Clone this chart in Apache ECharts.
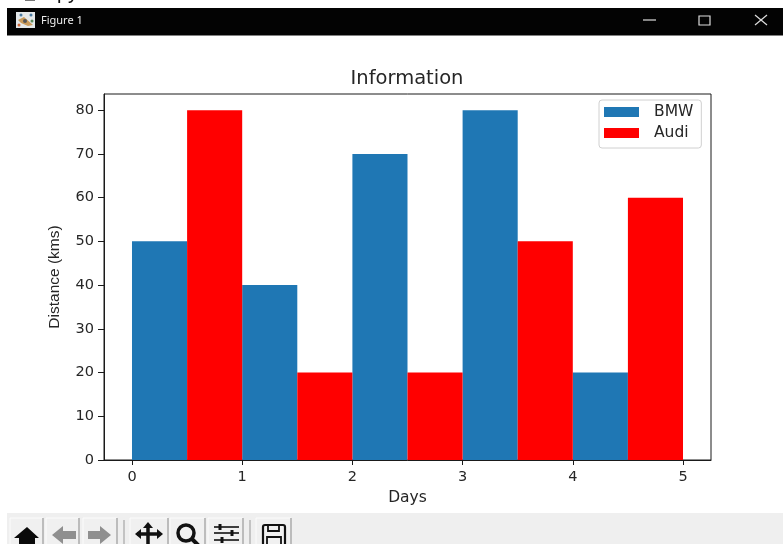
<!DOCTYPE html>
<html><head><meta charset="utf-8">
<style>html,body{margin:0;padding:0;background:#fff;overflow:hidden}#c{width:783px;height:544px}</style>
<script src="https://cdn.jsdelivr.net/npm/echarts@6/dist/echarts.min.js"></script>
</head><body><div id="c"></div>
<script>
const bmwX = [0.25, 1.25, 2.25, 3.25, 4.25];
const bmwValues = [50, 40, 70, 80, 20];
const audiX = [0.75, 1.75, 2.75, 3.75, 4.75];
const audiValues = [80, 20, 20, 50, 60];
const xTicks = [0, 1, 2, 3, 4, 5];
const yTicks = [0, 10, 20, 30, 40, 50, 60, 70, 80];
const pair = (xs, ys) => xs.map((x, i) => [x, ys[i]]);
const font = '"DejaVu Sans"';
const ink = '#262626';

const btn = (x, w) => [
  {type:'rect',shape:{x:x,y:518,width:w,height:30},style:{fill:'#f0f0f0',stroke:'#fbfbfb',lineWidth:1}},
  {type:'polyline',shape:{points:[[x+w,518],[x+w,544]]},style:{stroke:'#a8a8a8',lineWidth:1.5,fill:'none'}}
];
const sep = x => ({type:'polyline',shape:{points:[[x,520],[x,544]]},style:{stroke:'#b5b5b5',lineWidth:1.5,fill:'none'}});
const shape = (points, fill) => ({type:'polygon',shape:{points},style:{fill}});
const ln = (points, w, c) => ({type:'polyline',shape:{points},style:{stroke:c||'#111',lineWidth:w,fill:'none'}});
const dot = (cx, cy, r, fill) => ({type:'circle',shape:{cx,cy,r},style:{fill}});

const chrome = [
  {type:'text',left:57,top:-17,style:{text:'py',fill:'#111',font:'20px "Liberation Sans"'}},
  ln([[25,0.5],[35,0.5]], 1, '#777777'),
  {type:'rect',shape:{x:7,y:8,width:776,height:27.5},style:{fill:'#030303'}},
  {type:'rect',shape:{x:16,y:12,width:19,height:16},style:{fill:'#e4e8ea'}},
  shape([[18,20],[24,17],[33,25],[28,26],[21,23]], '#c99a5a'),
  dot(21,15,1.5,'#4a7aa0'), dot(31,15,1.5,'#4a7aa0'), dot(25,21,2,'#555555'), dot(19,25,1.5,'#d06a3a'), dot(32,21,1.5,'#5a8a5a'),
  {type:'text',left:41,top:15,style:{text:'Figure 1',fill:'#eeeeee',font:'11px "Noto Sans"'}},
  ln([[643,20],[656,20]], 1.2, '#dddddd'),
  {type:'rect',shape:{x:699,y:16,width:11,height:9},style:{fill:'none',stroke:'#dddddd',lineWidth:1.2}},
  ln([[755,15],[767,25]], 1.2, '#dddddd'),
  ln([[767,15],[755,25]], 1.2, '#dddddd'),
  {type:'rect',shape:{x:7,y:513,width:776,height:31},style:{fill:'#efefef'}},
  ...btn(10,33), ...btn(46,33), ...btn(83,34), sep(124),
  ...btn(130,38), ...btn(170,35), ...btn(208,35), sep(250), ...btn(256,35),
  shape([[14,538],[27,527],[39,538],[35,538],[35,544],[19,544],[19,538]], '#0a0a0a'),
  shape([[52,535],[63,526],[63,531],[76,531],[76,539],[63,539],[63,544]], '#8f8f8f'),
  shape([[111,535],[100,526],[100,531],[88,531],[88,539],[100,539],[100,544]], '#8f8f8f'),
  ln([[137,534],[160,534]], 3.5), ln([[148,525],[148,544]], 3.5),
  shape([[135,534],[141,529],[141,539]], '#111'), shape([[163,534],[157,529],[157,539]], '#111'),
  shape([[148,522],[143,528],[153,528]], '#111'),
  {type:'circle',shape:{cx:186,cy:533,r:8},style:{fill:'none',stroke:'#111',lineWidth:3.5}},
  ln([[192,539],[199,546]], 4),
  ln([[214,527],[239,527]], 1.6), ln([[214,533],[239,533]], 1.6), ln([[214,540],[239,540]], 1.6),
  ln([[220,524],[220,530]], 3), ln([[232,530],[232,536]], 3), ln([[222,537],[222,543]], 3),
  {type:'rect',shape:{x:263,y:525,width:22,height:22,r:2},style:{fill:'none',stroke:'#111',lineWidth:2.2}},
  {type:'rect',shape:{x:268,y:525,width:11,height:6},style:{fill:'none',stroke:'#111',lineWidth:1.8}},
  {type:'rect',shape:{x:267,y:537,width:14,height:8},style:{fill:'none',stroke:'#111',lineWidth:1.8}}
];

const chart = echarts.init(document.getElementById('c'), null, {renderer:'canvas'});
chart.setOption({
  animation:false,
  backgroundColor:'#fff',
  title:{text:'Information',left:407,top:69,textAlign:'center',padding:0,
    textStyle:{fontFamily:font,fontWeight:'normal',fontSize:19.5,color:ink,lineHeight:20}},
  grid:{left:104,top:94,width:607,height:366,show:true,borderColor:'#1a1a1a',borderWidth:1,backgroundColor:'transparent'},
  legend:{left:599,top:100,orient:'vertical',padding:[4,8,7,5],itemWidth:35,itemHeight:10,itemGap:5,
    backgroundColor:'#fff',borderColor:'#d0d0d0',borderWidth:1,borderRadius:3,
    icon:'rect',
    data:['BMW','Audi'],
    textStyle:{fontFamily:font,fontSize:15.5,color:ink,lineHeight:10,padding:[0,0,0,10]}},
  xAxis:{type:'value',min:-0.254,max:5.254,name:'Days',nameLocation:'middle',nameGap:27,
    nameTextStyle:{fontFamily:font,fontSize:15.5,color:ink},
    splitLine:{show:false},
    axisLine:{show:true,onZero:false,lineStyle:{color:'#1a1a1a',width:1}},
    axisTick:{show:true,length:5,customValues:xTicks,lineStyle:{color:'#1a1a1a',width:1}},
    axisLabel:{customValues:xTicks,margin:10,fontFamily:font,fontSize:14.5,color:ink}},
  yAxis:{type:'value',min:0,max:83.7,name:'Distance (kms)',nameLocation:'middle',nameGap:41,
    nameTextStyle:{fontFamily:'"Liberation Sans"',fontSize:15.5,color:ink},
    splitLine:{show:false},
    axisLine:{show:true,onZero:false,lineStyle:{color:'#1a1a1a',width:1}},
    axisTick:{show:true,length:6,customValues:yTicks,lineStyle:{color:'#1a1a1a',width:1}},
    axisLabel:{customValues:yTicks,margin:10,fontFamily:font,fontSize:14.5,color:ink}},
  series:[
    {name:'BMW',type:'bar',data:pair(bmwX,bmwValues),barWidth:55.1,barGap:'-100%',itemStyle:{color:'#1f77b4'}},
    {name:'Audi',type:'bar',data:pair(audiX,audiValues),barWidth:55.1,barGap:'-100%',itemStyle:{color:'#ff0000'}}
  ],
  graphic:{elements:chrome.map(e=>Object.assign({silent:true},e))}
});
</script></body></html>
